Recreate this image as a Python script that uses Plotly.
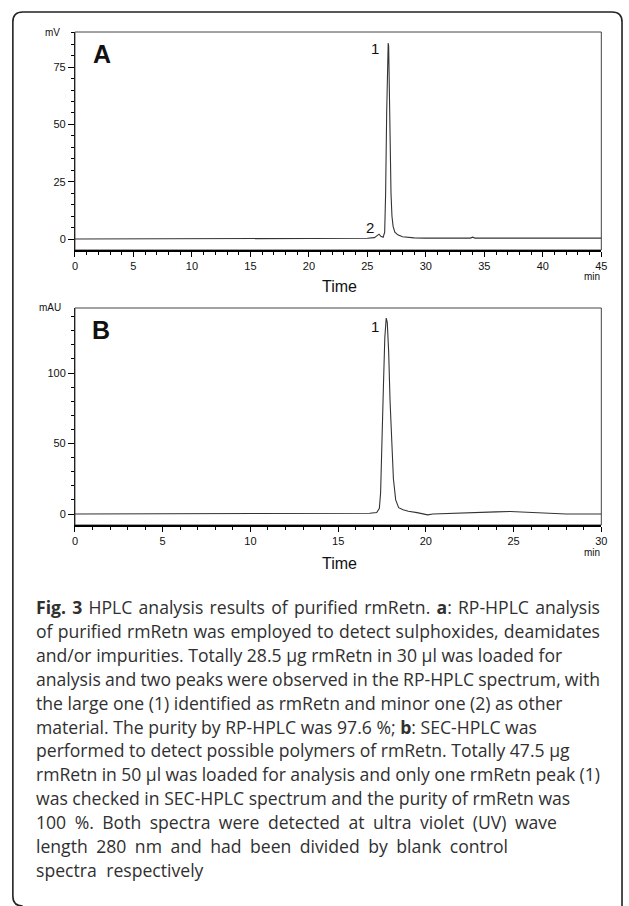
import json
import plotly.graph_objects as go

# ---------------- data ----------------
a_time = [0, 3.0, 3.5, 4.0, 4.5, 5.0, 5.5, 6.0, 6.5, 19.0, 19.3, 25.0, 25.6, 25.85, 26.0, 26.15,
          26.35, 26.48, 26.56, 26.65, 26.72, 26.78, 26.82, 26.88, 26.95, 27.02, 27.1, 27.2, 27.35,
          27.6, 28.0, 28.5, 29.0, 30.0, 33.8, 34.0, 34.2, 45.0]
a_mv = [0.0, 0.0, 0.3, 0.2, 0.0, 0.2, 0.1, 0.2, 0.0, 0.0, 0.3, 0.3, 0.6, 1.8, 2.1, 1.2,
        0.8, 3.0, 20.0, 55.0, 78.0, 85.5, 84.0, 62.0, 38.0, 20.0, 10.0, 5.5, 3.0,
        1.8, 1.0, 0.6, 0.5, 0.4, 0.4, 0.8, 0.4, 0.4]

b_time = [0, 14.0, 16.0, 16.8, 17.2, 17.35, 17.42, 17.5, 17.58, 17.66, 17.74, 17.8, 17.88, 17.96,
          18.05, 18.15, 18.28, 18.45, 18.7, 19.0, 19.5, 19.9, 20.1, 20.4, 21.5, 23.0, 24.0, 24.8,
          25.5, 26.5, 28.0, 30.0]
b_mau = [0, 0, 0.3, 0.5, 1.0, 4.0, 15.0, 45.0, 90.0, 125.0, 139.0, 136.0, 115.0, 80.0,
         48.0, 25.0, 10.0, 4.5, 3.0, 2.0, 1.0, 0.0, -0.6, 0.0, 0.6, 1.0, 1.5, 1.8,
         1.3, 0.6, 0.0, 0.0]

a_xticks = [0, 5, 10, 15, 20, 25, 30, 35, 40, 45]
b_xticks = [0, 5, 10, 15, 20, 25, 30]

caption_lines = [
    "<b>Fig. 3</b> HPLC analysis results of purified rmRetn. <b>a</b>: RP-HPLC analysis",
    "of purified rmRetn was employed to detect sulphoxides, deamidates",
    "and/or impurities. Totally 28.5 μg rmRetn in 30 μl was loaded for",
    "analysis and two peaks were observed in the RP-HPLC spectrum, with",
    "the large one (1) identified as rmRetn and minor one (2) as other",
    "material. The purity by RP-HPLC was 97.6 %; <b>b</b>: SEC-HPLC was",
    "performed to detect possible polymers of rmRetn. Totally 47.5 μg",
    "rmRetn in 50 μl was loaded for analysis and only one rmRetn peak (1)",
    "was checked in SEC-HPLC spectrum and the purity of rmRetn was",
    "100 %. Both spectra were detected at ultra violet (UV) wave",
    "length 280 nm and had been divided by blank control",
    "spectra respectively",
]

# ---------------- layout helpers ----------------
W, H = 629, 906


def px(x):
    return x / W


def py(y):
    return 1 - y / H


LINE = "#333333"
FONT = "Liberation Sans, Arial, sans-serif"

fig = go.Figure()
fig.add_trace(go.Scatter(x=a_time, y=a_mv, mode="lines", line=dict(color=LINE, width=1.1),
                         xaxis="x", yaxis="y", showlegend=False, hoverinfo="skip"))
fig.add_trace(go.Scatter(x=b_time, y=b_mau, mode="lines", line=dict(color=LINE, width=1.1),
                         xaxis="x2", yaxis="y2", showlegend=False, hoverinfo="skip"))

xdom = [px(73), px(607)]


def xax(rng, ticks, anchor):
    return dict(domain=xdom, range=rng, anchor=anchor, tickmode="array", tickvals=ticks,
                ticks="outside", ticklen=5, tickwidth=1, tickcolor="#000",
                minor=dict(dtick=1, tick0=0, ticks="outside", ticklen=3, tickwidth=1, tickcolor="#000"),
                showline=True, linewidth=2, linecolor="#000", showgrid=False, zeroline=False,
                tickfont=dict(family=FONT, size=11, color="#111"), fixedrange=True)


def yax(rng, dtick, mdtick, dom, anchor):
    return dict(domain=dom, range=rng, anchor=anchor, tickmode="linear", tick0=0, dtick=dtick,
                ticks="outside", ticklen=6, tickwidth=1, tickcolor="#000",
                minor=dict(dtick=mdtick, tick0=0, ticks="outside", ticklen=3, tickwidth=1, tickcolor="#000"),
                showline=True, linewidth=1, linecolor="#222", showgrid=False, zeroline=False,
                tickfont=dict(family=FONT, size=11, color="#111"), fixedrange=True)


fig.update_layout(
    width=W, height=H, margin=dict(l=0, r=0, t=0, b=0),
    paper_bgcolor="white", plot_bgcolor="white",
    xaxis=xax([0, 45], a_xticks, "y"),
    yaxis=yax([-4.8, 90.3], 25, 5, [py(250), py(32)], "x"),
    xaxis2=xax([0, 30], b_xticks, "y2"),
    yaxis2=yax([-7.8, 146.1], 50, 10, [py(525), py(308)], "x2"),
)

shapes = []
for xr, yr in (("x", "y"), ("x2", "y2")):
    shapes.append(dict(type="rect", xref=xr + " domain", yref=yr + " domain", x0=0, x1=1, y0=0, y1=1,
                       line=dict(color="#444", width=1), layer="below"))
# outer rounded frame
r = 10
path = (f"M {px(20)},{py(906)} Q {px(10)},{py(906)} {px(10)},{py(896)} "
        f"L {px(10)},{py(12 + r)} Q {px(10)},{py(12)} {px(10 + r)},{py(12)} "
        f"L {px(628 - r)},{py(12)} Q {px(628)},{py(12)} {px(628)},{py(12 + r)} L {px(628)},{py(906)}")
shapes.append(dict(type="path", xref="paper", yref="paper", path=path,
                   line=dict(color="#222", width=1.6)))
fig.update_layout(shapes=shapes)

ann = []


def text(x, y, s, size, bold=False, xanchor="center", family=FONT, color="#111"):
    ann.append(dict(x=px(x), y=py(y), xref="paper", yref="paper", text=f"<b>{s}</b>" if bold else s,
                    showarrow=False, xanchor=xanchor, yanchor="middle",
                    align="left" if xanchor == "left" else "center",
                    font=dict(family=family, size=size, color=color)))


# panel A
text(100, 54, "A", 25, bold=True)
text(50, 33, "mV", 10)
text(377, 48, "1", 15)
text(372, 227, "2", 15)
text(598, 276, "min", 10)
text(341, 287, "Time", 16)
# panel B
text(99, 330, "B", 25, bold=True)
text(48, 308, "mAU", 10)
text(377, 326, "1", 15)
text(598, 552, "min", 10)
text(341, 563, "Time", 16)

# caption
first_caption = len(ann)
for i, line in enumerate(caption_lines):
    text(31, 607 + i * 23.9, line, 17.6, xanchor="left", family="Open Sans, sans-serif", color="#303030")

fig.update_layout(annotations=ann)

# justification of the printed caption: right edge in px (None = natural), or extra px per space
right_edges = [600, 600, None, 600, None, None, None, 600, None, 557, 508, None]
extra_space = [0, 0, 0, 0, 0, 0, 0, 0, 0, 0, 0, 5]

post = """
document.body.style.margin='0';
document.body.style.overflow='hidden';
var gd=document.getElementById('{plot_id}');
var T=%s, E=%s, K=%d;
var g0=gd.getBoundingClientRect().left;
for(var i=0;i<T.length;i++){
  var el=gd.querySelector('g.annotation[data-index="'+(K+i)+'"] text.annotation-text');
  if(!el) continue;
  el.style.wordSpacing='0px';
  var s=(el.textContent.match(/ /g)||[]).length;
  if(s===0) continue;
  if(T[i]!==null){
    var right=el.getBoundingClientRect().right-g0;
    var ws=(T[i]-right)/s;
    if(ws>-1.5) el.style.wordSpacing=ws+'px';
  } else if(E[i]) {
    el.style.wordSpacing=E[i]+'px';
  }
}
""" % (json.dumps(right_edges), json.dumps(extra_space), first_caption)

fig.write_html("out.html", post_script=post, config={"displayModeBar": False})
